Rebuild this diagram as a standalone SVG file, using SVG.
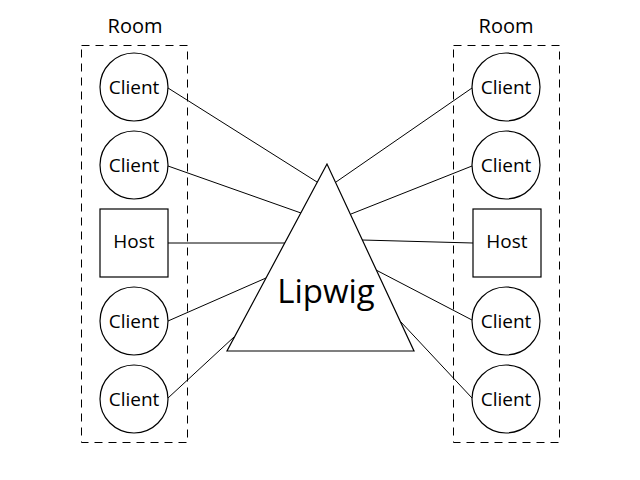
<svg xmlns="http://www.w3.org/2000/svg" width="640" height="480" viewBox="0 0 640 480">
<style>
.room{fill:none;stroke:#000;stroke-width:1;stroke-dasharray:8,6}
.node{fill:#fff;stroke:#000;stroke-width:1.2}
.lbl{font-family:"Open Sans","Liberation Sans",sans-serif;font-size:19px;fill:#000;text-anchor:middle}
.big{font-size:20px}
.conn line{stroke:#000;stroke-width:1}
</style>
<rect width="640" height="480" fill="#fff"/>
<g id="room-left">
<rect class="room" x="81.5" y="45.5" width="106" height="397"/>
<text class="lbl big" x="135" y="33">Room</text>
</g>
<g id="room-right">
<rect class="room" x="453.5" y="45.5" width="106" height="397"/>
<text class="lbl big" x="506" y="33">Room</text>
</g>
<g class="conn" id="connectors">
<line x1="168" y1="88" x2="317" y2="182"/>
<line x1="168" y1="166" x2="301" y2="213"/>
<line x1="168" y1="243" x2="285" y2="243"/>
<line x1="168" y1="321" x2="266" y2="278"/>
<line x1="168" y1="398" x2="234" y2="337"/>
<line x1="472" y1="88" x2="336" y2="182"/>
<line x1="472" y1="166" x2="351" y2="214"/>
<line x1="473" y1="243" x2="362" y2="240"/>
<line x1="472" y1="320" x2="376" y2="270"/>
<line x1="472" y1="398" x2="400" y2="321"/>
</g>
<g id="lipwig">
<polygon class="node" points="327,164 227,351 414,351"/>
<text class="lbl" style="font-size:33px" x="326" y="303">Lipwig</text>
</g>
<g id="l-client1"><circle class="node" cx="134" cy="87" r="34"/><text class="lbl" x="134" y="94">Client</text></g>
<g id="l-client2"><circle class="node" cx="134" cy="165" r="34"/><text class="lbl" x="134" y="172">Client</text></g>
<g id="l-host"><rect class="node" x="100" y="209" width="68" height="68"/><text class="lbl" x="134" y="248">Host</text></g>
<g id="l-client3"><circle class="node" cx="134" cy="321" r="34"/><text class="lbl" x="134" y="328">Client</text></g>
<g id="l-client4"><circle class="node" cx="134" cy="399" r="34"/><text class="lbl" x="134" y="406">Client</text></g>
<g id="r-client1"><circle class="node" cx="506" cy="87" r="34"/><text class="lbl" x="506" y="94">Client</text></g>
<g id="r-client2"><circle class="node" cx="506" cy="165" r="34"/><text class="lbl" x="506" y="172">Client</text></g>
<g id="r-host"><rect class="node" x="473" y="209" width="68" height="68"/><text class="lbl" x="507" y="248">Host</text></g>
<g id="r-client3"><circle class="node" cx="506" cy="321" r="34"/><text class="lbl" x="506" y="328">Client</text></g>
<g id="r-client4"><circle class="node" cx="506" cy="399" r="34"/><text class="lbl" x="506" y="406">Client</text></g>
</svg>
